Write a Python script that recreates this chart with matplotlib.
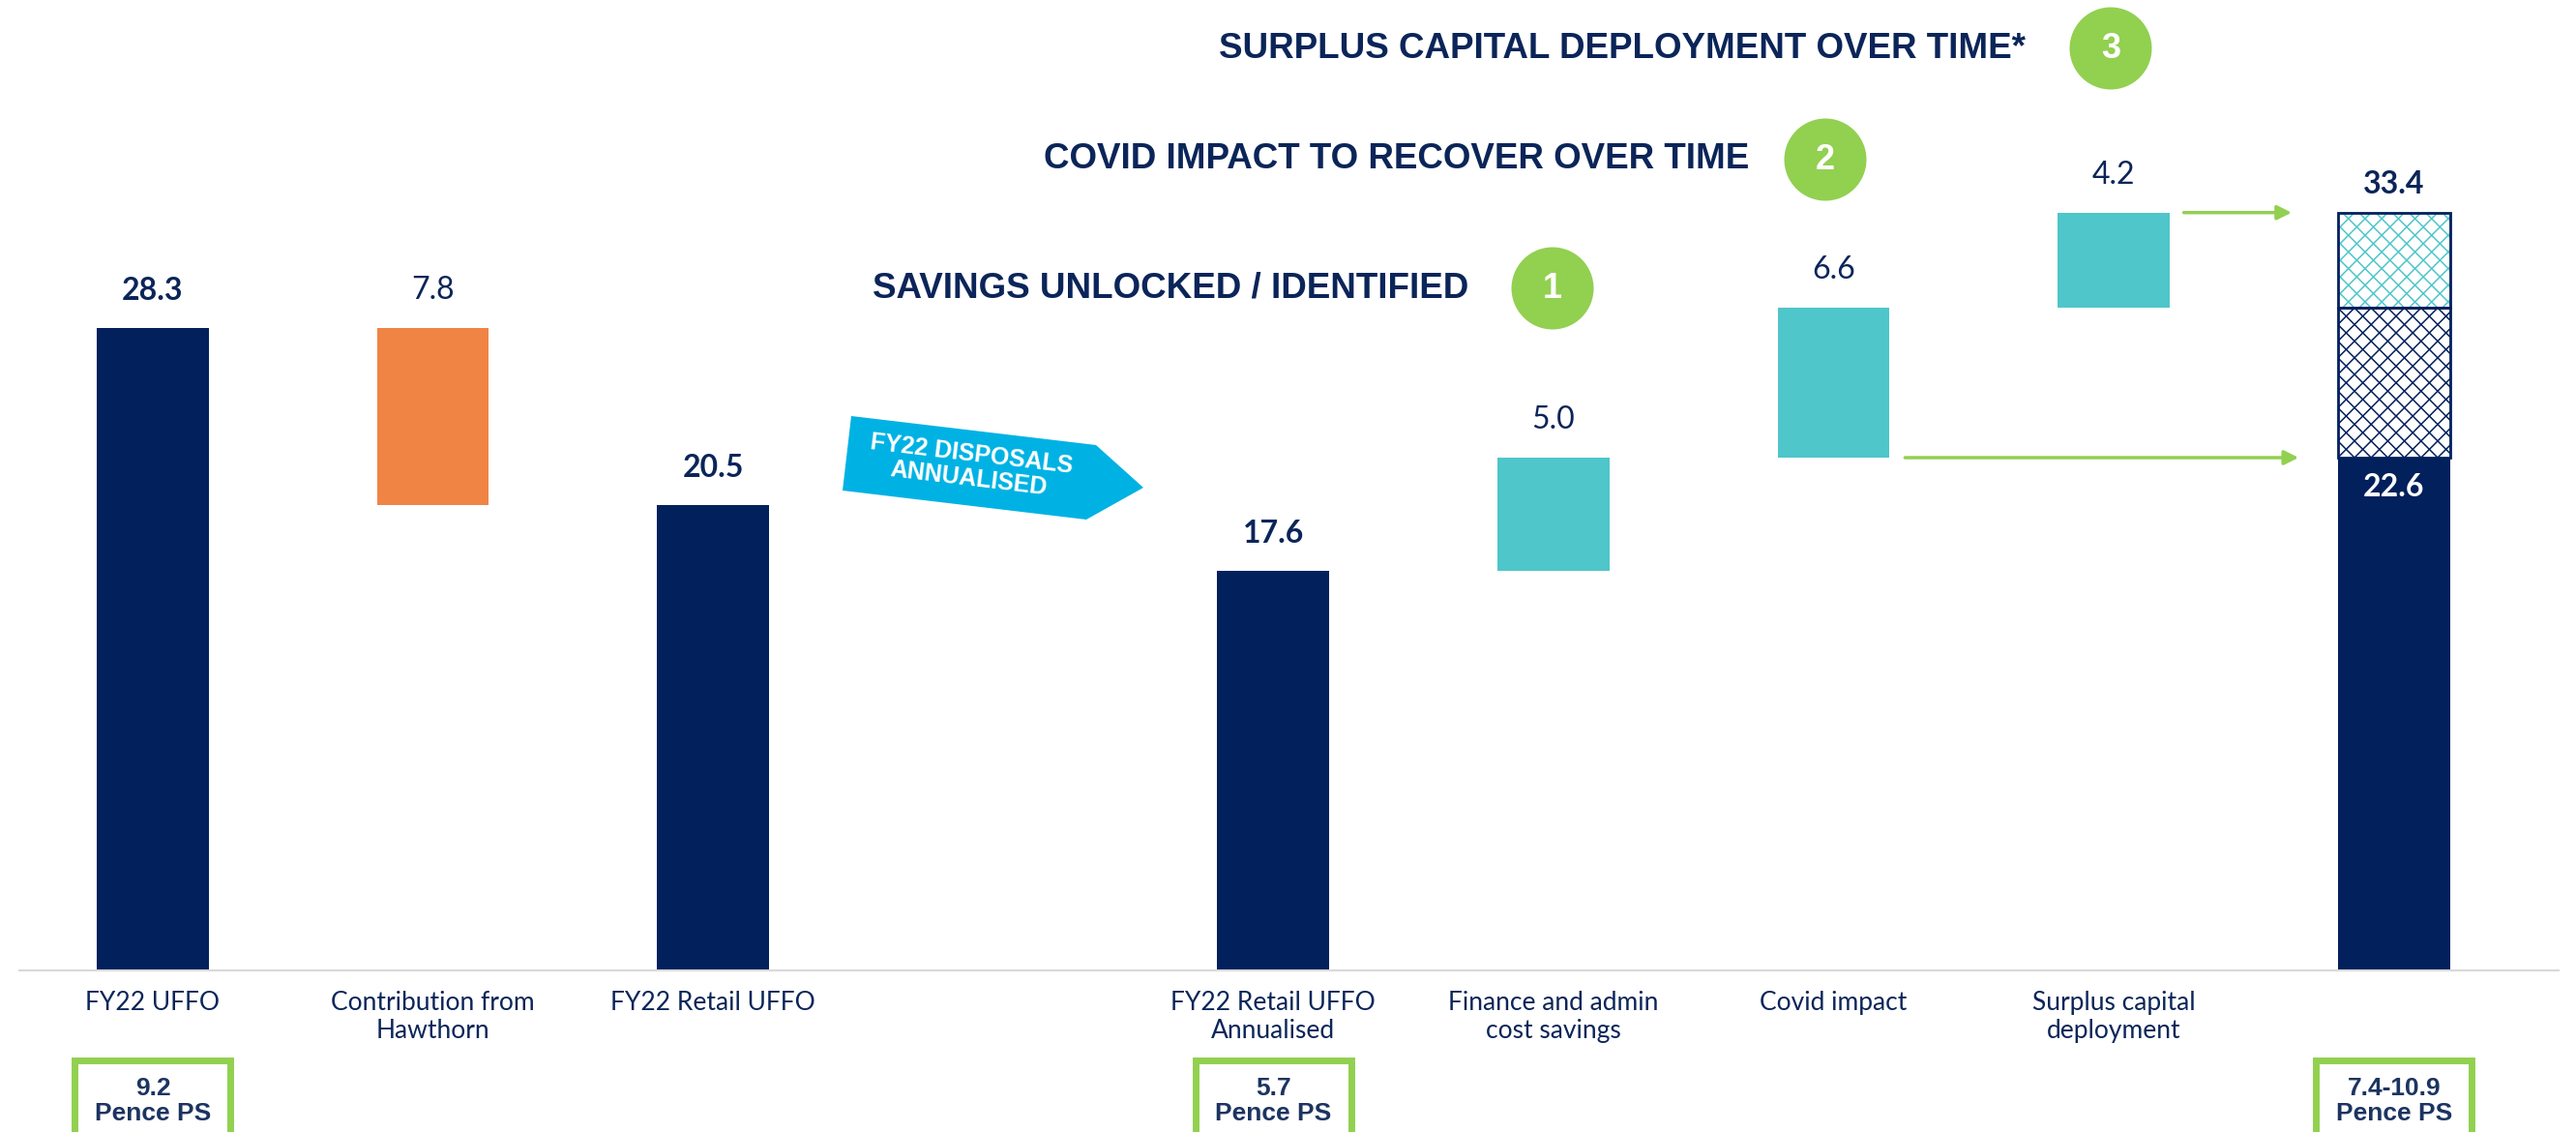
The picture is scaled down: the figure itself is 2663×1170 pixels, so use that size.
import matplotlib.pyplot as plt
import matplotlib.patches as mpatches
import matplotlib.transforms as mtransforms
from matplotlib.collections import LineCollection
import numpy as np

W, H = 2663, 1170

navy = '#01205c'
text_navy = '#0b2559'
box_navy = '#1c3461'
orange = '#f08444'
teal = '#4fc6ca'
green = '#92d050'
cyan = '#00b2e3'

# data
categories = ["FY22 UFFO", "Contribution from\nHawthorn", "FY22 Retail UFFO",
              "FY22 Retail UFFO\nAnnualised", "Finance and admin\ncost savings",
              "Covid impact", "Surplus capital\ndeployment", ""]
slots = [0, 1, 2, 4, 5, 6, 7, 8]
values = [28.3, 7.8, 20.5, 17.6, 5.0, 6.6, 4.2]
bottoms = [0, 20.5, 0, 0, 17.6, 22.6, 29.2]
bar_colors = [navy, orange, navy, navy, teal, teal, teal]
label_bold = [True, False, True, True, False, False, False]

final_base = 22.6
final_covid = 6.6
final_surplus = 4.2
final_total = 33.4

pence_slots = [0, 4, 8]
pence_labels = ["9.2\nPence PS", "5.7\nPence PS", "7.4-10.9\nPence PS"]

headers = ["SURPLUS CAPITAL DEPLOYMENT OVER TIME*", "COVID IMPACT TO RECOVER OVER TIME",
           "SAVINGS UNLOCKED / IDENTIFIED"]
header_nums = ["3", "2", "1"]

fig = plt.figure(figsize=(W / 100, H / 100), dpi=100)
ax = fig.add_axes([20 / W, (H - 1003) / H, 2625 / W, 1003 / H])
ax.set_xlim(-0.4765, 8.588)
ax.set_ylim(0, 42.77)

bw = 0.40
for i in range(len(values)):
    ax.bar(slots[i], values[i], bottom=bottoms[i], width=bw, color=bar_colors[i], zorder=2)
    top = bottoms[i] + values[i]
    ax.annotate(f"{values[i]:.1f}", xy=(slots[i], top), xytext=(0, 28), textcoords='offset points',
                ha='center', va='center', fontsize=23, color=text_navy, family='Lato',
                fontweight='bold' if label_bold[i] else 'normal')


def diamond_hatch(x, y0, y1, color, step=17.2):
    # crossed diagonal lines clipped to the bar, drawn in pixel space
    px0, py0 = ax.transData.transform((x - bw / 2, y0))
    px1, py1 = ax.transData.transform((x + bw / 2, y1))
    w, h = px1 - px0, py1 - py0
    segs = []
    for k in np.arange(-h, w + step, step):
        segs.append([(px0 + k, py0), (px0 + k + h, py1)])
        segs.append([(px0 + k, py1), (px0 + k + h, py0)])
    lc = LineCollection(segs, colors=color, linewidths=1.1,
                        transform=mtransforms.IdentityTransform(), zorder=2.5)
    ax.add_collection(lc, autolim=False)
    clip = mpatches.Rectangle((x - bw / 2, y0), bw, y1 - y0, transform=ax.transData)
    lc.set_clip_path(clip)


# final stacked bar with hatched parts
x8 = slots[-1]
ax.bar(x8, final_base, width=bw, color=navy, zorder=2)
diamond_hatch(x8, final_base, final_base + final_covid, navy)
diamond_hatch(x8, final_base + final_covid, final_total, teal)
ax.bar(x8, final_covid, bottom=final_base, width=bw, color='none', edgecolor=navy,
       linewidth=2, zorder=3)
ax.bar(x8, final_surplus, bottom=final_base + final_covid, width=bw, color='none',
       edgecolor=navy, linewidth=2, zorder=3)
ax.annotate(f"{final_total:.1f}", xy=(x8, final_total), xytext=(0, 21), textcoords='offset points',
            ha='center', va='center', fontsize=23, color=text_navy, family='Lato', fontweight='bold')
ax.annotate(f"{final_base:.1f}", xy=(x8, final_base), xytext=(0, -22), textcoords='offset points',
            ha='center', va='center', fontsize=23, color='white', family='Lato', fontweight='bold')

# green connector arrows
arr = dict(arrowstyle='-|>', color=green, lw=2.5, mutation_scale=22, shrinkA=0, shrinkB=0)
ax.annotate("", xy=(x8 - bw / 2 - 0.14, final_base), xytext=(slots[5] + bw / 2 + 0.055, final_base),
            arrowprops=arr)
ax.annotate("", xy=(x8 - bw / 2 - 0.165, final_total), xytext=(slots[6] + bw / 2 + 0.05, final_total),
            arrowprops=arr)

# axes styling
for s in ['top', 'right', 'left']:
    ax.spines[s].set_visible(False)
ax.spines['bottom'].set_color('#d9d9d9')
ax.spines['bottom'].set_linewidth(1.5)
ax.set_yticks([])
ax.set_xticks(slots)
ax.set_xticklabels(categories, fontsize=19, color=text_navy, family='Lato', linespacing=1.2)
ax.tick_params(axis='x', length=0, pad=15)

# pence per share boxes
bt = mtransforms.blended_transform_factory(ax.transData, fig.transFigure)
for s, lab in zip(pence_slots, pence_labels):
    rect = mpatches.Rectangle((s - 0.278, -0.05), 0.556, 0.05 + (H - 1095.5) / H, transform=bt,
                              facecolor='white', edgecolor=green, linewidth=5, clip_on=False)
    fig.patches.append(rect)
    fig.text(s, (H - 1138) / H, lab, transform=bt, fontsize=19, fontweight='bold',
             family='Liberation Sans', color=box_navy, ha='center', va='center', linespacing=1.1)


def fpx(x, y):
    return (x / W, 1 - y / H)


# disposals arrow shape
shape = [fpx(880, 430), fpx(1133, 460), fpx(1182, 504), fpx(1123, 537), fpx(871, 507)]
fig.patches.append(mpatches.Polygon(shape, closed=True, transform=fig.transFigure,
                                    facecolor=cyan, edgecolor='none'))
fig.text(*fpx(1003, 482), "FY22 DISPOSALS\nANNUALISED", rotation=-6.8, rotation_mode='anchor',
         ha='center', va='center', fontsize=18, fontweight='bold', family='Liberation Sans',
         color='white', linespacing=1.1)

# headers with numbered circles
centers = [(2182, 50), (1887, 165), (1605, 298)]
gaps = [88, 79, 87]
for txt, num, (cx, cy), g in zip(headers, header_nums, centers, gaps):
    fig.text(*fpx(cx - g, cy), txt, ha='right', va='center', fontsize=26.5, fontweight='bold',
             family='Liberation Sans', color=text_navy)
    fig.patches.append(mpatches.Ellipse(fpx(cx, cy), 85 / W, 85 / H, transform=fig.transFigure,
                                        facecolor=green, edgecolor='none'))
    fig.text(*fpx(cx, cy + 1), num, ha='center', va='center', fontsize=26, fontweight='bold',
             family='Liberation Sans', color='white')

fig.savefig('out.png', dpi=100)
